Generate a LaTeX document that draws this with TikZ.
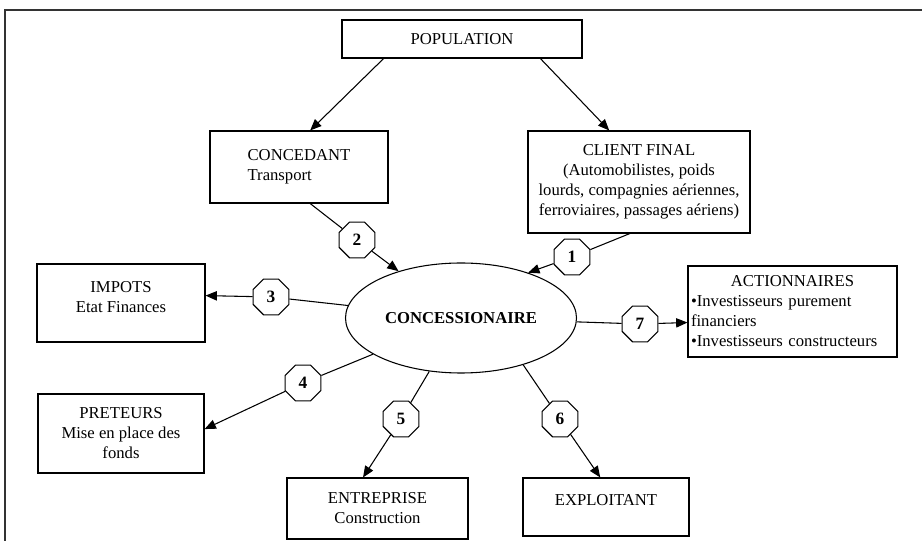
\documentclass[tikz,border=0pt]{standalone}
\usepackage{fontspec}
\setmainfont{Liberation Serif}
\usetikzlibrary{shapes.geometric,arrows.meta}
\newlength{\pxl}
\setlength{\pxl}{0.75pt}
\tikzset{
  box/.style={draw, line width=0.8pt, inner sep=2pt, align=center, font=\fontsize{12.5}{15}\selectfont},
  num/.style={draw, line width=0.8pt, regular polygon, regular polygon sides=8, minimum size=29pt, inner sep=0pt, fill=white, font=\fontsize{13}{15}\selectfont\bfseries},
  link/.style={line width=0.8pt},
  flow/.style={line width=0.8pt, -{Triangle[length=8.5pt,width=7pt]}},
}

\begin{document}
\begin{tikzpicture}[x=0.75pt,y=-0.75pt]
    \useasboundingbox (0,0) rectangle (922,541);
    \draw[line width=1.1pt, black!80] (5,548) -- (5,10) -- (930,10);

    \node[box, minimum width=240\pxl, minimum height=38\pxl] (pop) at (462,39) {POPULATION};
    \node[box, minimum width=178\pxl, minimum height=72\pxl, align=left] (concedant) at (299,167) {CONCEDANT\\Transport};
    \node[box, minimum width=222\pxl, minimum height=102\pxl] (client) at (639,182) {CLIENT FINAL\\(Automobilistes, poids\\lourds, compagnies aériennes,\\ferroviaires, passages aériens)};
    \node[box, minimum width=168\pxl, minimum height=78\pxl, text depth=9pt] (impots) at (121,303) {IMPOTS\\Etat Finances};
    \node[box, minimum width=166\pxl, minimum height=79\pxl] (preteurs) at (121,433.5) {PRETEURS\\Mise en place des\\fonds};
    \node[box, minimum width=209\pxl, minimum height=91\pxl, text width=203\pxl, align=left] (act) at (792.5,311.5) {\centerline{ACTIONNAIRES}\\•Investisseurs purement\\financiers\\•Investisseurs constructeurs};
    \node[box, minimum width=181\pxl, minimum height=61\pxl] (entreprise) at (377.5,508.5) {ENTREPRISE\\Construction};
    \node[box, minimum width=166\pxl, minimum height=58\pxl, text depth=10.5pt] (exploitant) at (606,507) {EXPLOITANT};

    \node[draw, line width=0.8pt, ellipse, minimum width=231\pxl, minimum height=110\pxl, font=\fontsize{12.5}{15}\selectfont\bfseries] (conc) at (461,318) {CONCESSIONAIRE};

    \node[num] (n1) at (572,257) {1};
    \node[num] (n2) at (357,240) {2};
    \node[num] (n3) at (271,297) {3};
    \node[num] (n4) at (303,383) {4};
    \node[num] (n5) at (401,419) {5};
    \node[num] (n6) at (560,419) {6};
    \node[num] (n7) at (640,324) {7};

    \draw[flow] (pop.194) -- (concedant.73);
    \draw[flow] (pop.346) -- (client.120);
    \draw[link] (concedant.287) -- (n2);
    \draw[flow] (n2) -- (conc);
    \draw[link] (client.260) -- (n1);
    \draw[flow] (n1) -- (conc.34);
    \draw[link] (conc) -- (n3);
    \draw[flow] (n3) -- (impots.5);
    \draw[link] (conc) -- (n4);
    \draw[flow] (n4) -- (preteurs.3);
    \draw[link] (conc) -- (n5);
    \draw[flow] (n5) -- (entreprise.115);
    \draw[link] (conc.323) -- (n6);
    \draw[flow] (n6) -- (exploitant.101);
    \draw[link] (conc) -- (n7);
    \draw[flow] (n7) -- (act.186);
\end{tikzpicture}
\end{document}
